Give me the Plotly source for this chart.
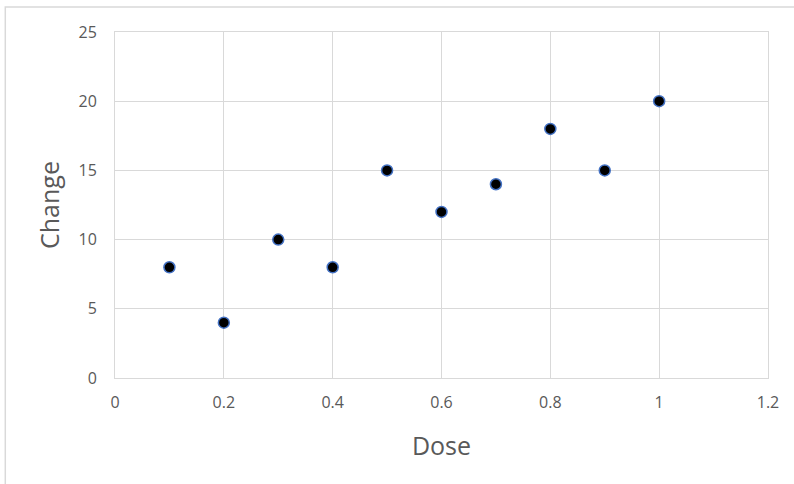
import plotly.graph_objects as go

dose = [0.1, 0.2, 0.3, 0.4, 0.5, 0.6, 0.7, 0.8, 0.9, 1.0]
change = [8, 4, 10, 8, 15, 12, 14, 18, 15, 20]

x_ticks = [0, 0.2, 0.4, 0.6, 0.8, 1, 1.2]
x_labels = ["0", "0.2", "0.4", "0.6", "0.8", "1", "1.2"]
y_ticks = [0, 5, 10, 15, 20, 25]

fig = go.Figure()
fig.add_trace(go.Scatter(
    x=dose, y=change, mode="markers",
    marker=dict(size=11, color="black", line=dict(color="#4472c4", width=1.5)),
    showlegend=False,
))

font_family = "Open Sans, Noto Sans, Liberation Sans, sans-serif"
fig.update_layout(
    width=794, height=484,
    margin=dict(l=115, r=26, t=32, b=106),
    paper_bgcolor="white", plot_bgcolor="white",
    font=dict(family=font_family, color="#595959"),
    xaxis=dict(
        range=[0, 1.2], tickvals=x_ticks, ticktext=x_labels,
        showgrid=True, gridcolor="#d9d9d9", gridwidth=1,
        zeroline=False, showline=True, linecolor="#d9d9d9", mirror=True,
        ticks="", tickfont=dict(size=16, color="#595959"),
        ticklabelstandoff=10,
        title=dict(text="Dose", font=dict(size=25, color="#595959"), standoff=25),
    ),
    yaxis=dict(
        range=[0, 25], tickvals=y_ticks,
        showgrid=True, gridcolor="#d9d9d9", gridwidth=1,
        zeroline=False, showline=True, linecolor="#d9d9d9", mirror=True,
        ticks="", ticklen=0, tickfont=dict(size=16, color="#595959"),
        ticklabelstandoff=14,
        title=dict(text="Change", font=dict(size=25, color="#595959"), standoff=11),
    ),
    shapes=[dict(
        type="rect", xref="paper", yref="paper",
        x0=-0.168, x1=1.2, y0=-0.5, y1=1.072,
        line=dict(color="#d9d9d9", width=1.5), fillcolor="rgba(0,0,0,0)",
        layer="below",
    )],
)

fig.write_html("out.html")
